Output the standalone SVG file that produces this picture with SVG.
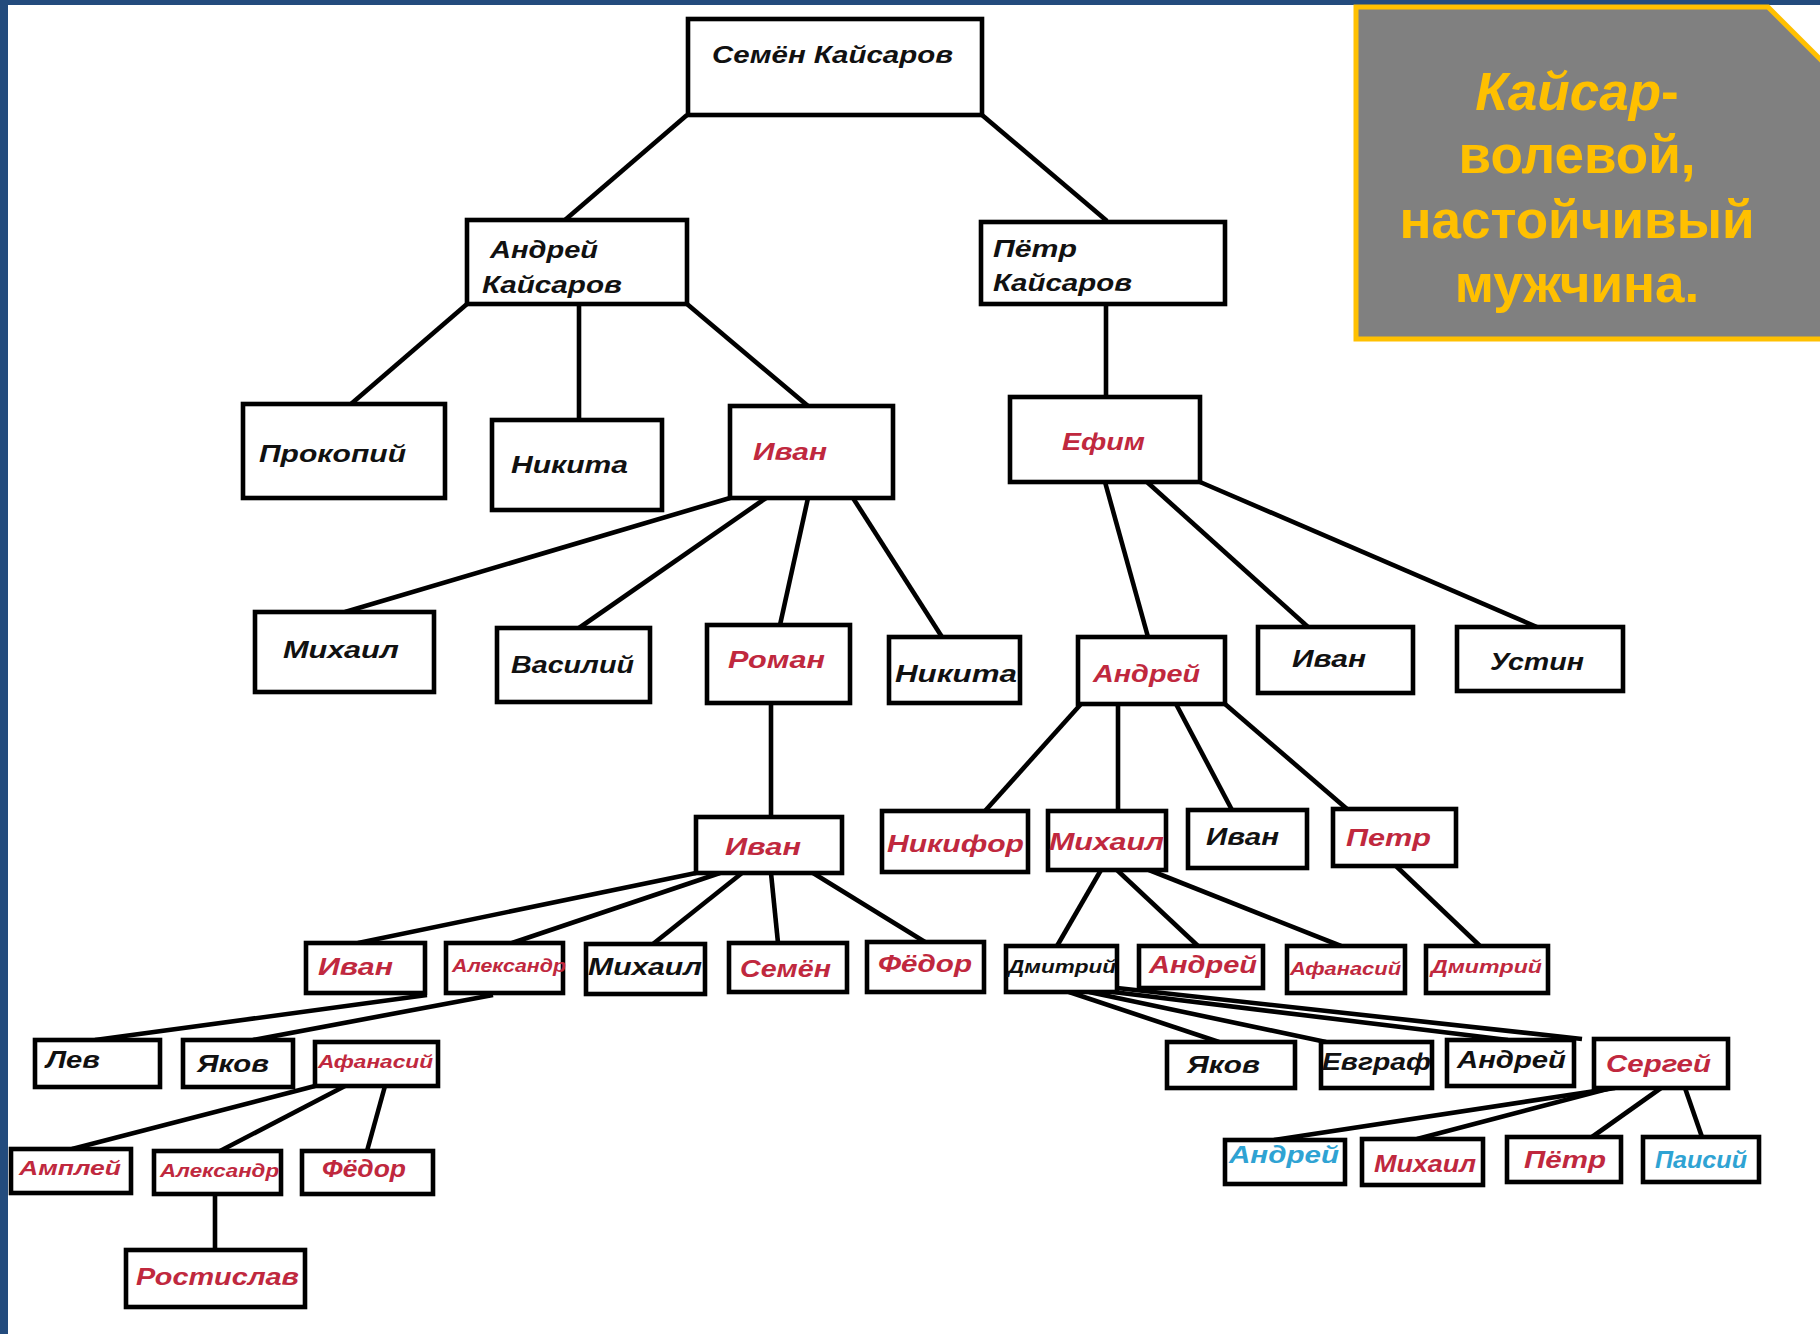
<svg xmlns="http://www.w3.org/2000/svg" width="1820" height="1334" viewBox="0 0 1820 1334">
<style>
.bx{fill:#fff;stroke:#000;stroke-width:4.6}
.cn line{stroke:#000;stroke-width:4.6;stroke-linecap:butt}
.t{font-family:"Liberation Sans",Arial,sans-serif;font-weight:bold;font-style:italic;font-size:23px;fill:#111}
.s{font-size:18px}
.r{fill:#C0283E}
.u{fill:#2FA3D3}
.cl{font-family:"Liberation Sans",Arial,sans-serif;font-weight:bold;font-size:53px;fill:#FFC000;text-anchor:middle}
</style>
<rect x="0" y="0" width="1820" height="1334" fill="#fff"/>
<rect x="0" y="0" width="1820" height="5" fill="#234B7D"/>
<rect x="0" y="0" width="8" height="1334" fill="#234B7D"/>

<g id="connectors" class="cn">
<line x1="687" y1="115" x2="565" y2="220"/>
<line x1="982" y1="115" x2="1107" y2="221"/>
<line x1="467" y1="304" x2="351" y2="404"/>
<line x1="579" y1="304" x2="579" y2="420"/>
<line x1="687" y1="304" x2="808" y2="406"/>
<line x1="1106" y1="304" x2="1106" y2="397"/>
<line x1="730" y1="498" x2="345" y2="612"/>
<line x1="766" y1="498" x2="579" y2="628"/>
<line x1="808" y1="498" x2="780" y2="625"/>
<line x1="853" y1="498" x2="942" y2="637"/>
<line x1="1105" y1="482" x2="1148" y2="637"/>
<line x1="1147" y1="482" x2="1308" y2="627"/>
<line x1="1200" y1="482" x2="1537" y2="627"/>
<line x1="771" y1="703" x2="771" y2="817"/>
<line x1="1081" y1="704" x2="985" y2="811"/>
<line x1="1118" y1="704" x2="1118" y2="811"/>
<line x1="1176" y1="704" x2="1232" y2="810"/>
<line x1="1225" y1="704" x2="1347" y2="809"/>
<line x1="696" y1="873" x2="358" y2="943"/>
<line x1="720" y1="873" x2="512" y2="943"/>
<line x1="742" y1="873" x2="653" y2="944"/>
<line x1="771" y1="873" x2="778" y2="943"/>
<line x1="813" y1="873" x2="925" y2="942"/>
<line x1="1101" y1="870" x2="1057" y2="946"/>
<line x1="1117" y1="870" x2="1198" y2="946"/>
<line x1="1149" y1="870" x2="1341" y2="946"/>
<line x1="1396" y1="866" x2="1480" y2="946"/>
<line x1="427" y1="995" x2="95" y2="1040"/>
<line x1="493" y1="995" x2="253" y2="1040"/>
<line x1="315" y1="1086" x2="72" y2="1149"/>
<line x1="345" y1="1086" x2="220" y2="1151"/>
<line x1="385" y1="1086" x2="367" y2="1151"/>
<line x1="215" y1="1194" x2="215" y2="1250"/>
<line x1="1069" y1="992" x2="1219" y2="1042"/>
<line x1="1089" y1="992" x2="1326" y2="1042"/>
<line x1="1113" y1="992" x2="1508" y2="1040"/>
<line x1="1117" y1="988" x2="1582" y2="1039"/>
<line x1="1615" y1="1088" x2="1274" y2="1140"/>
<line x1="1611" y1="1088" x2="1417" y2="1139"/>
<line x1="1661" y1="1088" x2="1592" y2="1137"/>
<line x1="1685" y1="1088" x2="1702" y2="1137"/>
</g>

<g id="n01"><rect class="bx" x="688" y="19" width="294" height="96"/><text class="t" x="712" y="63" textLength="241" lengthAdjust="spacingAndGlyphs">Семён Кайсаров</text></g>
<g id="n02"><rect class="bx" x="467" y="220" width="220" height="84"/><text class="t" x="490" y="258" textLength="108" lengthAdjust="spacingAndGlyphs">Андрей</text><text class="t" x="482" y="293" textLength="140" lengthAdjust="spacingAndGlyphs">Кайсаров</text></g>
<g id="n03"><rect class="bx" x="981" y="222" width="244" height="82"/><text class="t" x="993" y="257" textLength="84" lengthAdjust="spacingAndGlyphs">Пётр</text><text class="t" x="993" y="291" textLength="139" lengthAdjust="spacingAndGlyphs">Кайсаров</text></g>
<g id="n04"><rect class="bx" x="243" y="404" width="202" height="94"/><text class="t" x="259" y="462" textLength="147" lengthAdjust="spacingAndGlyphs">Прокопий</text></g>
<g id="n05"><rect class="bx" x="492" y="420" width="170" height="90"/><text class="t" x="511" y="473" textLength="117" lengthAdjust="spacingAndGlyphs">Никита</text></g>
<g id="n06"><rect class="bx" x="730" y="406" width="163" height="92"/><text class="t r" x="753" y="460" textLength="74" lengthAdjust="spacingAndGlyphs">Иван</text></g>
<g id="n07"><rect class="bx" x="1010" y="397" width="190" height="85"/><text class="t r" x="1062" y="450" textLength="83" lengthAdjust="spacingAndGlyphs">Ефим</text></g>
<g id="n08"><rect class="bx" x="255" y="612" width="179" height="80"/><text class="t" x="283" y="658" textLength="116" lengthAdjust="spacingAndGlyphs">Михаил</text></g>
<g id="n09"><rect class="bx" x="497" y="628" width="153" height="74"/><text class="t" x="511" y="673" textLength="123" lengthAdjust="spacingAndGlyphs">Василий</text></g>
<g id="n10"><rect class="bx" x="707" y="625" width="143" height="78"/><text class="t r" x="728" y="668" textLength="97" lengthAdjust="spacingAndGlyphs">Роман</text></g>
<g id="n11"><rect class="bx" x="889" y="637" width="131" height="66"/><text class="t" x="895" y="682" textLength="122" lengthAdjust="spacingAndGlyphs">Никита</text></g>
<g id="n12"><rect class="bx" x="1078" y="637" width="147" height="67"/><text class="t r" x="1093" y="682" textLength="107" lengthAdjust="spacingAndGlyphs">Андрей</text></g>
<g id="n13"><rect class="bx" x="1258" y="627" width="155" height="66"/><text class="t" x="1292" y="667" textLength="74" lengthAdjust="spacingAndGlyphs">Иван</text></g>
<g id="n14"><rect class="bx" x="1457" y="627" width="166" height="64"/><text class="t" x="1490" y="670" textLength="94" lengthAdjust="spacingAndGlyphs">Устин</text></g>
<g id="n15"><rect class="bx" x="696" y="817" width="146" height="56"/><text class="t r" x="725" y="855" textLength="76" lengthAdjust="spacingAndGlyphs">Иван</text></g>
<g id="n16"><rect class="bx" x="882" y="811" width="146" height="61"/><text class="t r" x="887" y="852" textLength="137" lengthAdjust="spacingAndGlyphs">Никифор</text></g>
<g id="n17"><rect class="bx" x="1048" y="811" width="118" height="59"/><text class="t r" x="1049" y="850" textLength="115" lengthAdjust="spacingAndGlyphs">Михаил</text></g>
<g id="n18"><rect class="bx" x="1188" y="810" width="119" height="58"/><text class="t" x="1206" y="845" textLength="73" lengthAdjust="spacingAndGlyphs">Иван</text></g>
<g id="n19"><rect class="bx" x="1333" y="809" width="123" height="57"/><text class="t r" x="1346" y="846" textLength="85" lengthAdjust="spacingAndGlyphs">Петр</text></g>
<g id="n20"><rect class="bx" x="306" y="943" width="119" height="50"/><text class="t r" x="318" y="975" textLength="75" lengthAdjust="spacingAndGlyphs">Иван</text></g>
<g id="n21"><rect class="bx" x="446" y="943" width="117" height="50"/><text class="t s r" x="452" y="972" textLength="114" lengthAdjust="spacingAndGlyphs">Александр</text></g>
<g id="n22"><rect class="bx" x="586" y="944" width="119" height="50"/><text class="t" x="588" y="975" textLength="114" lengthAdjust="spacingAndGlyphs">Михаил</text></g>
<g id="n23"><rect class="bx" x="729" y="943" width="118" height="49"/><text class="t r" x="740" y="977" textLength="91" lengthAdjust="spacingAndGlyphs">Семён</text></g>
<g id="n24"><rect class="bx" x="867" y="942" width="117" height="50"/><text class="t r" x="878" y="972" textLength="94" lengthAdjust="spacingAndGlyphs">Фёдор</text></g>
<g id="n25"><rect class="bx" x="1006" y="946" width="111" height="46"/><text class="t s" x="1008" y="973" textLength="108" lengthAdjust="spacingAndGlyphs">Дмитрий</text></g>
<g id="n26"><rect class="bx" x="1139" y="946" width="124" height="42"/><text class="t r" x="1149" y="973" textLength="108" lengthAdjust="spacingAndGlyphs">Андрей</text></g>
<g id="n27"><rect class="bx" x="1287" y="946" width="118" height="47"/><text class="t s r" x="1290" y="975" textLength="111" lengthAdjust="spacingAndGlyphs">Афанасий</text></g>
<g id="n28"><rect class="bx" x="1426" y="946" width="122" height="47"/><text class="t s r" x="1431" y="973" textLength="111" lengthAdjust="spacingAndGlyphs">Дмитрий</text></g>
<g id="n29"><rect class="bx" x="35" y="1040" width="125" height="47"/><text class="t" x="46" y="1068" textLength="54" lengthAdjust="spacingAndGlyphs">Лев</text></g>
<g id="n30"><rect class="bx" x="183" y="1040" width="110" height="47"/><text class="t" x="197" y="1072" textLength="72" lengthAdjust="spacingAndGlyphs">Яков</text></g>
<g id="n31"><rect class="bx" x="315" y="1042" width="123" height="44"/><text class="t s r" x="318" y="1068" textLength="115" lengthAdjust="spacingAndGlyphs">Афанасий</text></g>
<g id="n32"><rect class="bx" x="1167" y="1042" width="128" height="46"/><text class="t" x="1187" y="1073" textLength="73" lengthAdjust="spacingAndGlyphs">Яков</text></g>
<g id="n33"><rect class="bx" x="1321" y="1042" width="111" height="46"/><text class="t" x="1322" y="1070" textLength="109" lengthAdjust="spacingAndGlyphs">Евграф</text></g>
<g id="n34"><rect class="bx" x="1447" y="1040" width="127" height="46"/><text class="t" x="1457" y="1068" textLength="109" lengthAdjust="spacingAndGlyphs">Андрей</text></g>
<g id="n35"><rect class="bx" x="1594" y="1039" width="134" height="49"/><text class="t r" x="1606" y="1072" textLength="105" lengthAdjust="spacingAndGlyphs">Сергей</text></g>
<g id="n36"><rect class="bx" x="11" y="1149" width="120" height="44"/><text class="t r" x="19" y="1175" textLength="102" lengthAdjust="spacingAndGlyphs" style="font-size:20px">Амплей</text></g>
<g id="n37"><rect class="bx" x="154" y="1151" width="127" height="43"/><text class="t s r" x="160" y="1177" textLength="119" lengthAdjust="spacingAndGlyphs">Александр</text></g>
<g id="n38"><rect class="bx" x="302" y="1151" width="131" height="43"/><text class="t r" x="322" y="1177" textLength="84" lengthAdjust="spacingAndGlyphs">Фёдор</text></g>
<g id="n39"><rect class="bx" x="126" y="1250" width="179" height="57"/><text class="t r" x="136" y="1285" textLength="163" lengthAdjust="spacingAndGlyphs">Ростислав</text></g>
<g id="n40"><rect class="bx" x="1225" y="1140" width="120" height="44"/><text class="t u" x="1229" y="1163" textLength="110" lengthAdjust="spacingAndGlyphs">Андрей</text></g>
<g id="n41"><rect class="bx" x="1362" y="1139" width="121" height="46"/><text class="t r" x="1374" y="1172" textLength="102" lengthAdjust="spacingAndGlyphs">Михаил</text></g>
<g id="n42"><rect class="bx" x="1507" y="1137" width="114" height="45"/><text class="t r" x="1524" y="1168" textLength="82" lengthAdjust="spacingAndGlyphs">Пётр</text></g>
<g id="n43"><rect class="bx" x="1643" y="1137" width="116" height="45"/><text class="t u" x="1655" y="1168" textLength="92" lengthAdjust="spacingAndGlyphs">Паисий</text></g>

<g id="callout">
<polygon points="1356,7 1768,7 1840,79 1840,339 1356,339" fill="#808080" stroke="#FFC000" stroke-width="5" stroke-linejoin="miter"/>
<text class="cl" x="1577" y="110"><tspan font-style="italic">Кайсар</tspan>-</text>
<text class="cl" x="1577" y="173">волевой,</text>
<text class="cl" x="1577" y="238">настойчивый</text>
<text class="cl" x="1577" y="302">мужчина.</text>
</g>
</svg>
